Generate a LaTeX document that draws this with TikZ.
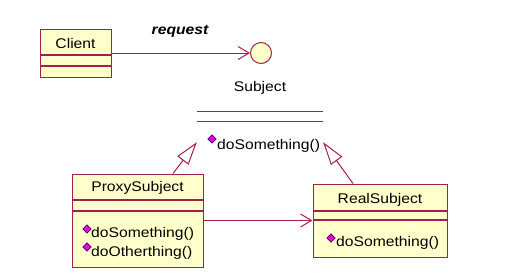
\documentclass[tikz,border=0pt]{standalone}
\usepackage{fontspec}
\setmainfont{Liberation Sans}[FakeStretch=1.12]
\usetikzlibrary{arrows.meta,calc,shapes.geometric}
\definecolor{umlborder}{RGB}{165,30,80}
\definecolor{umlfill}{RGB}{255,255,204}
\definecolor{markfill}{RGB}{235,0,235}
\definecolor{markedge}{RGB}{70,0,90}
\begin{document}
\begin{tikzpicture}[x=1pt,y=-1pt,
  every node/.style={font=\fontsize{14}{16}\selectfont},
  classbox/.style={draw=umlborder, fill=umlfill, line width=1pt, rectangle, inner sep=0pt},
  sepline/.style={draw=umlborder, line width=1.1pt},
  lbl/.style={inner sep=0pt, text=black},
  oplbl/.style={inner sep=0pt, anchor=west, text=black},
  opdiamond/.style={diamond, draw=markedge, fill=markfill, inner sep=0pt, minimum size=8.5pt, line width=0.7pt},
  assoc/.style={draw=umlborder, line width=1pt, -{Straight Barb[length=11pt,width=13pt]}},
  inherit/.style={draw=umlborder, line width=1pt, -{Triangle[open, length=23pt, width=14pt, fill=white]}},
]
\useasboundingbox (0,0) rectangle (505,279);

% Client class
\node[classbox, minimum width=71pt, minimum height=48pt] (client) at (75.5,53) {};
\draw[sepline] (40,55) -- (111,55);
\draw[sepline] (40,66) -- (111,66);
\node[lbl] (clientname) at (75.5,43) {Client};

% Subject interface (lollipop) and its operations
\node[circle, draw=umlborder, fill=umlfill, line width=1pt, minimum size=21pt, inner sep=0pt] (iface) at (261,53) {};
\node[lbl, font=\fontsize{14}{16}\selectfont\bfseries\itshape] (reqlbl) at (180,31) {request};
\draw[assoc] (client) -- (iface);

\node[lbl] (subjname) at (260,88) {Subject};
\node[minimum width=126pt, minimum height=30pt, inner sep=0pt] (subject) at (260,127) {};
\draw[sepline] (subject.north west) -- (subject.north east);
\draw[sepline] ($(subject.north west)+(0,10)$) -- ($(subject.north east)+(0,10)$);
\node[opdiamond] (subjmk) at (212,139) {};
\node[oplbl] (subjop) at (217,146) {doSomething()};

% ProxySubject class
\node[classbox, minimum width=131pt, minimum height=93pt] (proxy) at (137.5,220.5) {};
\draw[sepline] (72,200) -- (203,200);
\draw[sepline] (72,211) -- (203,211);
\node[lbl] (proxyname) at (137.5,188) {ProxySubject};
\node[opdiamond] (proxymk1) at (87,229) {};
\node[oplbl] (proxyop1) at (91,234) {doSomething()};
\node[opdiamond] (proxymk2) at (87,247) {};
\node[oplbl] (proxyop2) at (91,253) {doOtherthing()};

% RealSubject class
\node[classbox, minimum width=134pt, minimum height=73pt] (real) at (380,220.5) {};
\draw[sepline] (313,211) -- (447,211);
\draw[sepline] (313,220) -- (447,220);
\node[lbl] (realname) at (380,200) {RealSubject};
\node[opdiamond] (realmk) at (331,238) {};
\node[oplbl] (realop) at (336,243) {doSomething()};

% Relationships
\draw[inherit] ($(proxy.north)+(35.5,0)$) -- (subject.south west);
\draw[inherit] ($(real.north)+(-27,0)$) -- (subject.south east);
\draw[assoc] (proxy) -- (real);
\end{tikzpicture}
\end{document}
